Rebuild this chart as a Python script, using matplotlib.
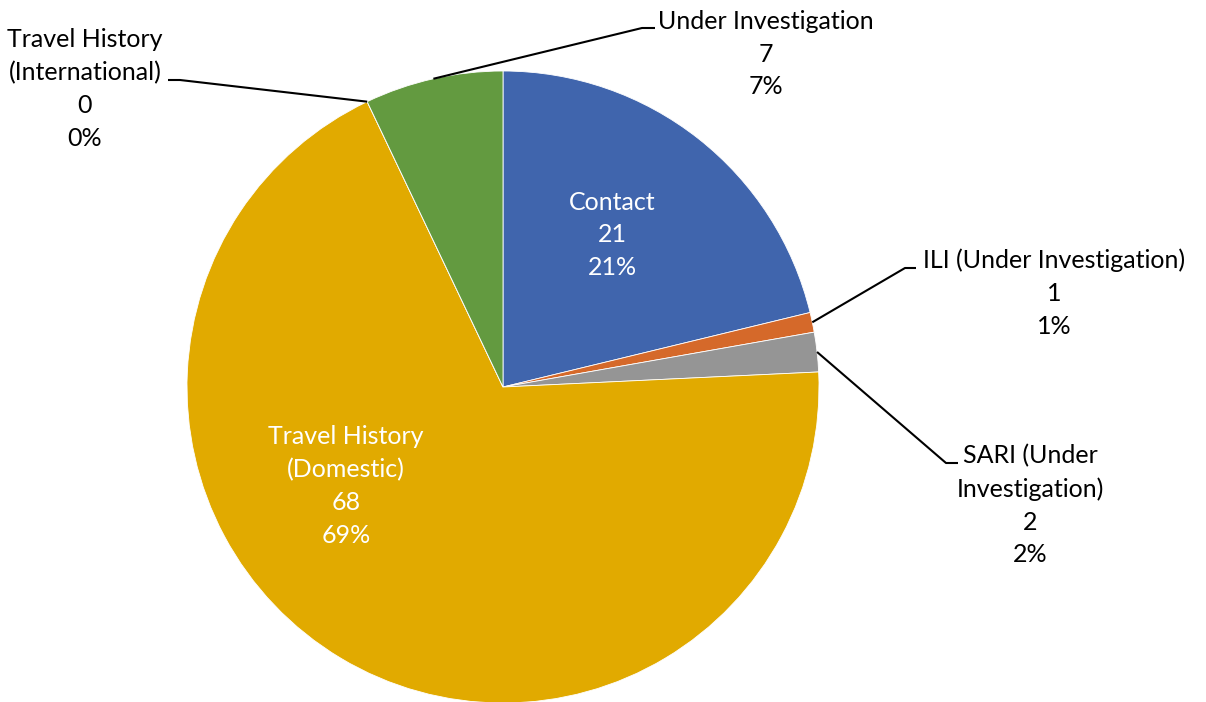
import numpy as np
import matplotlib.pyplot as plt

#------------------------------------------------------------------------------
# data

categories = ['Contact', 'ILI (Under Investigation)', 'SARI (Under\nInvestigation)',
              'Travel History\n(Domestic)', 'Travel History\n(International)',
              'Under Investigation']
counts     = [21, 1, 2, 68, 0, 7]
percents   = ['21%', '1%', '2%', '69%', '0%', '7%']
colors     = ['#4065AD', '#D5692A', '#959595', '#E1AA00', '#4472C4', '#639A40']

#------------------------------------------------------------------------------
# layout (pixel coordinates, y from top)

center = (503, 387)
radius = 316

# label centre, text colour, leader elbow (None = inside label)
label_pos = [(612, 235), (1054, 293), (1030, 505), (346, 486), (85, 89), (766, 54)]
text_col  = ['white', 'black', 'black', 'white', 'black', 'black']
elbows    = [None, ((905, 268), (916, 268)), ((946, 463), (958, 463)), None,
             ((180, 80), (168, 80)), ((642, 28), (655, 28))]

plt.rcParams['font.family'] = ['Lato', 'DejaVu Sans']

fig = plt.figure(figsize=(12.06, 7.02), dpi=100)
ax = fig.add_axes([0, 0, 1, 1])

# y axis inverted -> counterclock=True in data is clockwise on screen
wedges, _ = ax.pie(counts, colors=colors, center=center, radius=radius,
                   startangle=-90, counterclock=True,
                   wedgeprops=dict(linewidth=0.6, edgecolor='white'))
ax.set_xlim(0, 1206)
ax.set_ylim(702, 0)
ax.set_aspect('equal')
ax.axis('off')

for n, w in enumerate(wedges):
    text = categories[n] + '\n' + str(counts[n]) + '\n' + percents[n]
    ax.text(label_pos[n][0], label_pos[n][1], text, ha='center', va='center',
            multialignment='center', color=text_col[n], fontsize=18, linespacing=1.52)
    if elbows[n] is not None:
        theta = np.deg2rad((w.theta1 + w.theta2) / 2)
        x0 = center[0] + radius * np.cos(theta)
        y0 = center[1] + radius * np.sin(theta)
        (xe, ye), (xh, yh) = elbows[n]
        ax.plot([x0, xe, xh], [y0, ye, yh], color='black', lw=1.5,
                solid_capstyle='butt', zorder=3)

fig.savefig('out.png', dpi=100)
